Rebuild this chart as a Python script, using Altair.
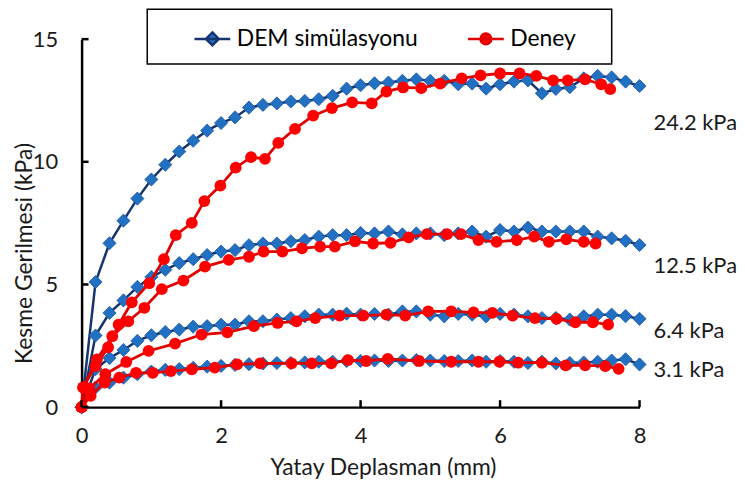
import altair as alt
import pandas as pd

# ---------------- data ----------------
series_names = ["DEM simülasyonu", "Deney"]
levels = ["24.2 kPa", "12.5 kPa", "6.4 kPa", "3.1 kPa"]

dem_x = [round(0.2 * i, 1) for i in range(41)]
dem_24 = [0, 5.1, 6.68, 7.6, 8.5, 9.28, 9.88, 10.42, 10.86, 11.27, 11.58, 11.81, 12.21, 12.32,
          12.38, 12.46, 12.48, 12.55, 12.69, 12.98, 13.12, 13.2, 13.23, 13.3, 13.36, 13.3, 13.3,
          13.16, 13.19, 12.98, 13.16, 13.27, 13.32, 12.79, 12.97, 13.04, 13.4, 13.5, 13.44, 13.27, 13.09]
dem_12 = [0, 2.92, 3.84, 4.35, 4.9, 5.3, 5.6, 5.87, 6.03, 6.2, 6.34, 6.4, 6.6, 6.67, 6.67, 6.76,
          6.81, 6.95, 7.01, 7.01, 7.1, 7.08, 7.16, 7.04, 7.08, 7.08, 7.01, 7.08, 7.16, 6.95, 7.22,
          7.16, 7.32, 7.16, 7.16, 7.16, 7.16, 6.95, 6.88, 6.78, 6.61]
dem_6 = [0, 1.55, 2.0, 2.33, 2.7, 2.93, 3.06, 3.16, 3.28, 3.3, 3.36, 3.36, 3.5, 3.5, 3.57, 3.63,
         3.7, 3.77, 3.77, 3.81, 3.77, 3.8, 3.77, 3.9, 3.9, 3.77, 3.7, 3.8, 3.77, 3.7, 3.8, 3.77,
         3.7, 3.63, 3.63, 3.57, 3.7, 3.77, 3.77, 3.71, 3.6]
dem_3 = [0, 0.8, 1.0, 1.2, 1.34, 1.45, 1.52, 1.55, 1.6, 1.65, 1.68, 1.72, 1.75, 1.78, 1.8, 1.8,
         1.82, 1.85, 1.85, 1.88, 1.88, 1.9, 1.88, 1.9, 1.92, 1.9, 1.88, 1.88, 1.9, 1.85, 1.88,
         1.85, 1.8, 1.85, 1.78, 1.8, 1.82, 1.85, 1.9, 1.95, 1.74]

d24_x = [0, 0.02, 0.2, 0.38, 0.53, 0.72, 0.97, 1.18, 1.35, 1.58, 1.76, 1.99, 2.21, 2.43, 2.63,
         2.82, 3.06, 3.32, 3.59, 3.88, 4.16, 4.37, 4.61, 4.87, 5.14, 5.45, 5.72, 6.0, 6.28, 6.52,
         6.76, 6.97, 7.22, 7.45, 7.58]
d24_y = [0, 0.8, 1.67, 2.44, 3.36, 4.27, 5.05, 6.03, 7.01, 7.51, 8.4, 9.03, 9.76, 10.19, 10.12,
         10.77, 11.34, 11.88, 12.19, 12.42, 12.38, 12.86, 13.03, 13.0, 13.19, 13.4, 13.52, 13.6,
         13.6, 13.5, 13.32, 13.32, 13.36, 13.16, 12.96]
d12_x = [0, 0.03, 0.22, 0.44, 0.67, 0.9, 1.15, 1.46, 1.77, 2.11, 2.4, 2.61, 2.88, 3.16, 3.42,
         3.63, 3.92, 4.18, 4.43, 4.69, 4.95, 5.24, 5.44, 5.69, 5.95, 6.24, 6.49, 6.7, 6.95, 7.2, 7.37]
d12_y = [0, 0.8, 1.95, 2.89, 3.5, 4.05, 4.81, 5.16, 5.73, 6.0, 6.13, 6.34, 6.34, 6.47, 6.54,
         6.54, 6.76, 6.67, 6.7, 6.92, 7.05, 7.05, 7.05, 6.81, 6.74, 6.81, 6.95, 6.74, 6.84, 6.74, 6.67]
d6_x = [0, 0.11, 0.34, 0.64, 0.96, 1.34, 1.72, 2.09, 2.47, 2.81, 3.08, 3.35, 3.7, 4.04, 4.37,
        4.64, 4.97, 5.3, 5.62, 5.89, 6.18, 6.5, 6.81, 7.08, 7.33, 7.55]
d6_y = [0, 0.76, 1.34, 1.84, 2.29, 2.59, 2.96, 3.05, 3.3, 3.43, 3.5, 3.63, 3.73, 3.73, 3.77,
        3.73, 3.9, 3.9, 3.86, 3.84, 3.73, 3.63, 3.6, 3.46, 3.46, 3.36]
d3_x = [0, 0.13, 0.33, 0.54, 0.78, 1.02, 1.28, 1.58, 1.91, 2.23, 2.56, 3.01, 3.3, 3.58, 3.82,
        4.08, 4.39, 4.84, 5.3, 5.69, 5.99, 6.26, 6.6, 6.94, 7.22, 7.51, 7.7]
d3_y = [0, 0.46, 1.0, 1.2, 1.4, 1.4, 1.47, 1.54, 1.61, 1.74, 1.78, 1.78, 1.78, 1.78, 1.92,
        1.88, 1.97, 1.88, 1.85, 1.85, 1.85, 1.81, 1.81, 1.7, 1.7, 1.67, 1.56]

x_ticks = [0, 2, 4, 6, 8]
y_ticks = [0, 5, 10, 15]

# ---------------- build table ----------------
rows = []
for lev, ys in zip(levels, [dem_24, dem_12, dem_6, dem_3]):
    for xv, yv in zip(dem_x, ys):
        rows.append({"x": xv, "y": yv, "series": series_names[0], "level": lev})
for lev, xs, ys in zip(levels, [d24_x, d12_x, d6_x, d3_x], [d24_y, d12_y, d6_y, d3_y]):
    for xv, yv in zip(xs, ys):
        rows.append({"x": xv, "y": yv, "series": series_names[1], "level": lev})
df = pd.DataFrame(rows)

NAVY = "#17346e"
BLUE = "#2270c2"
RED_LINE = "#e00000"
RED = "#ff0000"
FONT = "Lato"
W, H = 561, 370

xs = alt.Scale(domain=[0, 8], nice=False, zero=False)
ys = alt.Scale(domain=[0, 15], nice=False, zero=False)

x_enc = alt.X("x:Q", scale=xs, axis=alt.Axis(
    values=x_ticks, format="d", title="Yatay Deplasman (mm)", grid=False, ticks=False, tickSize=0,
    labelFlush=False, labelPadding=19, labelFontSize=22, titleX=303, titleY=61,
    titleBaseline="middle", titleFontSize=23))
y_enc = alt.Y("y:Q", scale=ys, axis=alt.Axis(
    values=y_ticks, format="d", title="Kesme Gerilmesi (kPa)", grid=False, ticks=False, tickSize=0,
    labelFlush=False, labelPadding=24, labelFontSize=22, titleX=-57, titleY=215,
    titleBaseline="middle", titleFontSize=23))

base = alt.Chart(df)

dem_line = base.transform_filter(alt.datum.series == series_names[0]).mark_line(
    color=NAVY, strokeWidth=2.5).encode(x=x_enc, y=y_enc, detail="level:N", order="x:Q")
dem_pts = base.transform_filter(alt.datum.series == series_names[0]).mark_point(
    shape="diamond", filled=True, fill=BLUE, stroke="#1a56a3", strokeWidth=0.8,
    size=175, opacity=1).encode(x="x:Q", y="y:Q")
dey_line = base.transform_filter(alt.datum.series == series_names[1]).mark_line(
    color=RED_LINE, strokeWidth=2.8).encode(x="x:Q", y="y:Q", detail="level:N", order="x:Q")
dey_pts = base.transform_filter(alt.datum.series == series_names[1]).mark_point(
    shape="circle", filled=True, fill=RED, size=140, opacity=1).encode(x="x:Q", y="y:Q")

# inward tick marks
xt = alt.Chart(pd.DataFrame({"t": x_ticks})).mark_rule(color="black", strokeWidth=2.5).encode(
    x=alt.X("t:Q", scale=xs), y=alt.value(H), y2=alt.value(H - 7))
yt = alt.Chart(pd.DataFrame({"t": y_ticks})).mark_rule(color="black", strokeWidth=2.5).encode(
    y=alt.Y("t:Q", scale=ys), x=alt.value(0), x2=alt.value(7))

# legend box
box = alt.Chart(pd.DataFrame({"a": [0]})).mark_rect(
    fill="white", stroke="black", strokeWidth=1.5).encode(
    x=alt.value(66), x2=alt.value(533), y=alt.value(-30), y2=alt.value(25))

path_dem = "M-1,0L1,0M0,-0.36L0.36,0L0,0.36L-0.36,0Z"
path_dey = "M-1,0L1,0M-0.3,0A0.3,0.3,0,1,1,0.3,0A0.3,0.3,0,1,1,-0.3,0Z"
leg = alt.Legend(title=None, orient="none", legendX=112, legendY=-20, direction="horizontal",
                 symbolSize=1296, symbolStrokeWidth=2.5, labelFont=FONT, labelFontSize=23,
                 labelColor="black", labelOffset=5, columnPadding=44, padding=0, labelLimit=400)
legend_layer = base.transform_filter("false").mark_point(filled=True, opacity=1).encode(
    fill=alt.Fill("series:N", scale=alt.Scale(domain=series_names, range=[BLUE, RED]), legend=leg),
    stroke=alt.Stroke("series:N", scale=alt.Scale(domain=series_names, range=[NAVY, RED_LINE]), legend=leg),
    shape=alt.Shape("series:N", scale=alt.Scale(domain=series_names, range=[path_dem, path_dey]), legend=leg),
)

# level annotations
label_pos = [84, 228, 293, 333]
labels = []
for lev, py in zip(levels, label_pos):
    labels.append(alt.Chart(pd.DataFrame({"a": [0]})).mark_text(
        text=lev, align="left", baseline="middle", font=FONT, fontSize=22, color="#1a1a1a").encode(
        x=alt.value(575), y=alt.value(py)))

chart = alt.layer(box, dem_line, dem_pts, dey_line, dey_pts, xt, yt, legend_layer, *labels).properties(
    width=W, height=H,
    autosize=alt.AutoSizeParams(type="none"),
    padding={"left": 74, "top": 30, "right": 98, "bottom": 80},
).configure_view(stroke=None).configure_axis(
    domainColor="black", domainWidth=2.5, labelFont=FONT, titleFont=FONT,
    labelColor="#1a1a1a", titleColor="#1a1a1a", titleFontWeight="normal",
)

chart.save("out.html", embed_options={"renderer": "svg", "actions": False})
